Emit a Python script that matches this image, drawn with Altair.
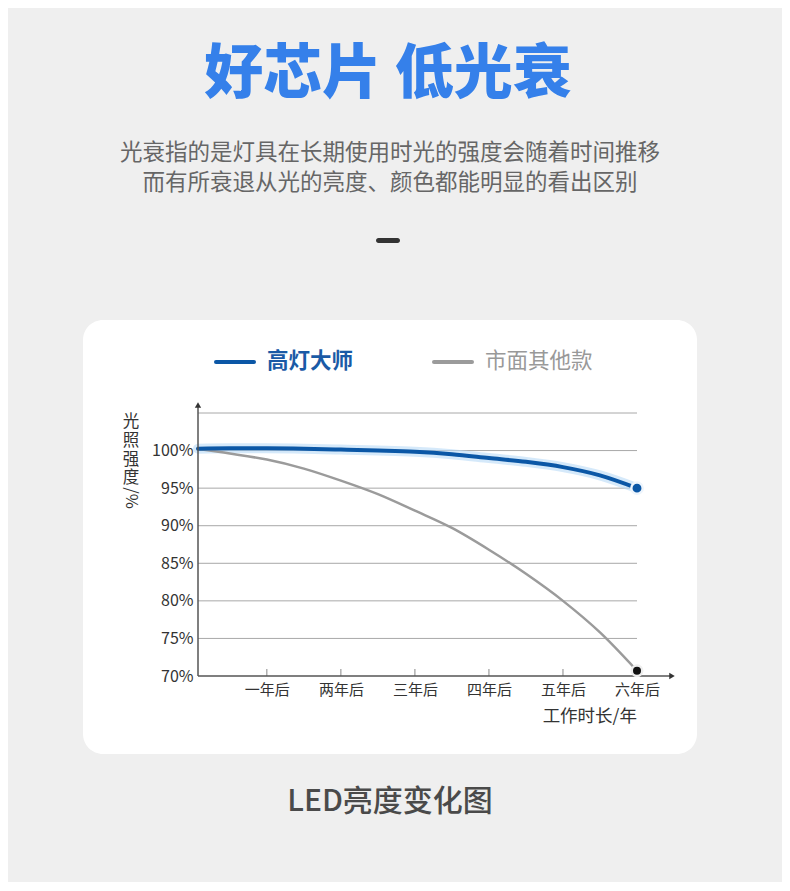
import altair as alt
import pandas as pd

# ---- data ----
years = [0.07, 0.5, 1, 1.5, 2, 2.5, 3, 3.5, 4, 4.5, 5, 5.5, 6]
brand_vals = [100.25, 100.3, 100.3, 100.25, 100.13, 100.0, 99.83, 99.5, 99.0, 98.5, 97.8, 96.7, 95.0]
other_vals = [100.2, 99.6, 98.8, 97.6, 96.0, 94.2, 92.0, 89.7, 86.8, 83.6, 80.0, 75.8, 70.7]
series_names = ["高灯大师", "市面其他款"]
x_ticks = [1, 2, 3, 4, 5, 6]
x_labels = ["一年后", "两年后", "三年后", "四年后", "五年后", "六年后"]
y_ticks = [70, 75, 80, 85, 90, 95, 100, 105]

FONT = "Noto Sans CJK SC"
W, H = 439, 263

brand = pd.DataFrame({"year": years, "value": brand_vals})
other = pd.DataFrame({"year": years, "value": other_vals})
ticks_df = pd.DataFrame({"year": x_ticks, "label": x_labels})
grid_df = pd.DataFrame({"value": y_ticks[1:]})

label_expr = "{" + ",".join(f"'{t}':'{l}'" for t, l in zip(x_ticks, x_labels)) + "}"

xs = alt.Scale(domain=[0.07, 6], nice=False, zero=False)
ys = alt.Scale(domain=[70, 105], nice=False, zero=False)

x_axis = alt.Axis(
    values=x_ticks, labelExpr=label_expr + "[datum.value]", title=None,
    domain=False, ticks=False, grid=False, labelFont=FONT, labelFontSize=15,
    labelColor="#333", labelPadding=6, zindex=2, labelOverlap=False,
    labelFlush=False, labelBound=False)
y_axis = alt.Axis(
    values=y_ticks, labelExpr="datum.value > 100 ? '' : datum.value + '%'",
    title=None, domain=False, ticks=False, grid=False,
    labelFont=FONT, labelFontSize=16, labelColor="#333",
    labelPadding=5, zindex=2, labelOverlap=False, labelFlush=False,
    labelBound=False)

X = alt.X("year:Q", scale=xs, axis=x_axis)
Y = alt.Y("value:Q", scale=ys, axis=y_axis)

base_b = alt.Chart(brand)
base_o = alt.Chart(other)
one = alt.Chart(pd.DataFrame({"a": [0]}))

# card background
card = one.mark_rect(color="white", cornerRadius=20).encode(
    x=alt.value(-115), x2=alt.value(499), y=alt.value(-93), y2=alt.value(341))

axis_layer = base_b.mark_line(opacity=0).encode(x=X, y=Y)

grid = alt.Chart(grid_df).mark_rule(color="#a8a8a8", strokeWidth=1).encode(
    x=alt.value(0), x2=alt.value(W), y=alt.Y("value:Q", scale=ys, axis=y_axis))

glow = base_b.mark_line(interpolate="monotone", color="#b9dbf7", strokeWidth=10,
                        opacity=0.6, strokeCap="round").encode(x=X, y=Y)
blue_line = base_b.mark_line(interpolate="monotone", color="#0b57a6", strokeWidth=4,
                             strokeCap="round").encode(x=X, y=Y)
gray_line = base_o.mark_line(interpolate="monotone", color="#9b9b9b",
                             strokeWidth=2.5).encode(x=X, y=Y)

blue_end = alt.Chart(brand.tail(1)).mark_circle(
    size=130, color="#0b57a6", opacity=1, stroke="#eef5fc", strokeWidth=2.5).encode(x=X, y=Y)
gray_end = alt.Chart(other.tail(1)).mark_circle(
    size=110, color="#111", opacity=1, stroke="#eeeeee", strokeWidth=2.5).encode(x=X, y=Y)

# axis lines and arrows
y_axis_line = one.mark_rule(color="#555", strokeWidth=1.5).encode(
    x=alt.value(0), y=alt.value(-8), y2=alt.value(H))
x_axis_line = one.mark_rule(color="#555", strokeWidth=1.5).encode(
    x=alt.value(0), x2=alt.value(472), y=alt.value(H))
y_arrow = one.mark_point(shape="triangle-up", filled=True, color="#333",
                         size=40, opacity=1).encode(x=alt.value(0), y=alt.value(-8))
x_arrow = one.mark_point(shape="triangle-right", filled=True, color="#333",
                         size=40, opacity=1).encode(x=alt.value(474), y=alt.value(H))
x_tick_marks = alt.Chart(ticks_df).mark_rule(color="#888", strokeWidth=1).encode(
    x=X, y=alt.value(H - 7), y2=alt.value(H))

def txt(text, x, y, size, color, weight="normal", align="center", angle=0, lh=None,
        baseline="middle"):
    kw = dict(font=FONT, fontSize=size, color=color, fontWeight=weight,
              align=align, baseline=baseline, angle=angle)
    if lh:
        kw["lineHeight"] = lh
    return one.mark_text(**kw).encode(
        x=alt.value(x), y=alt.value(y), text=alt.value(text))

title = txt("好芯片 低光衰", 190, -338, 59, "#3580ea", weight=900)
sub1 = txt("光衰指的是灯具在长期使用时光的强度会随着时间推移", 192, -260, 22.5, "#666")
sub2 = txt("而有所衰退从光的亮度、颜色都能明显的看出区别", 192, -230, 22.5, "#666")
dash = one.mark_rect(color="#333", cornerRadius=2.5).encode(
    x=alt.value(178), x2=alt.value(202), y=alt.value(-175), y2=alt.value(-170))

leg_b_line = one.mark_rule(color="#0b57a6", strokeWidth=4, strokeCap="round").encode(
    x=alt.value(18), x2=alt.value(56), y=alt.value(-51))
leg_b_txt = txt(series_names[0], 69, -51, 21.5, "#1a5aa6", weight="bold", align="left")
leg_o_line = one.mark_rule(color="#9b9b9b", strokeWidth=4, strokeCap="round").encode(
    x=alt.value(236), x2=alt.value(274), y=alt.value(-51))
leg_o_txt = txt(series_names[1], 287, -51, 21.5, "#999", align="left")

y_title = txt(["光", "照", "强", "度"], -67, 9, 16.5, "#333", lh=18.8)
y_title2 = txt("/%", -67, 85, 16.5, "#333", angle=90)
x_title = txt("工作时长/年", 439, 304, 17.5, "#333", align="right")
bottom = txt("LED亮度变化图", 192, 389, 30, "#4a4a4a", weight=500)

chart = alt.layer(
    card, axis_layer, grid, glow, gray_line, blue_line, x_tick_marks,
    y_axis_line, x_axis_line, y_arrow, x_arrow, blue_end, gray_end,
    title, sub1, sub2, dash, leg_b_line, leg_b_txt, leg_o_line, leg_o_txt,
    y_title, y_title2, x_title, bottom
).properties(
    width=W, height=H,
    padding={"left": 190, "top": 405, "right": 145, "bottom": 206},
    autosize=alt.AutoSizeParams(type="none"),
    background="#efefef"
).configure_view(stroke=None)

chart.save("out.html", embed_options={"renderer": "svg", "actions": False})
